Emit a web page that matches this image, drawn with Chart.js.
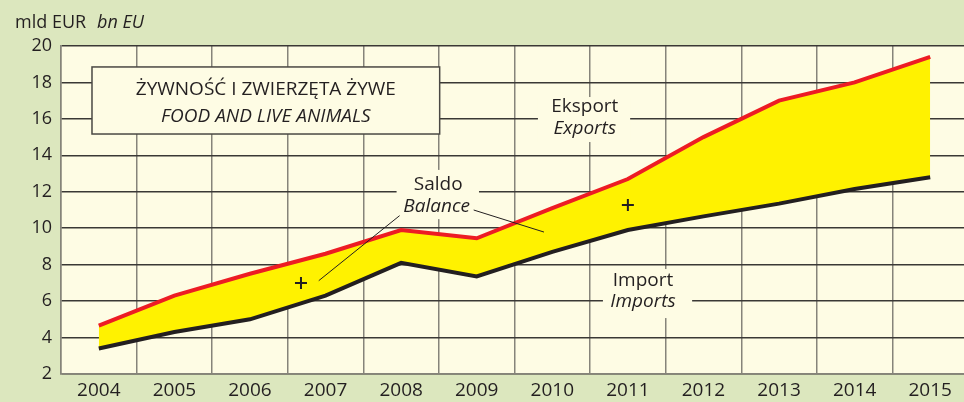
<!DOCTYPE html>
<html>
<head>
    <script src="https://cdn.jsdelivr.net/npm/chart.js@4"></script>
    <style>
        html, body { margin: 0; padding: 0; background: #dce7be; overflow: hidden; }
        #wrap { width: 970px; height: 402px; position: relative; }
    </style>
</head>
<body>
 <div id="wrap">
  <canvas id="trade-chart"></canvas>
 </div>
  <script>
    // food and live animals, bn EUR
    const years = ['2004', '2005', '2006', '2007', '2008', '2009', '2010', '2011', '2012', '2013', '2014', '2015'];
    const exportsBn = [4.65, 6.3, 7.5, 8.6, 9.9, 9.45, 11.1, 12.7, 15.0, 17.0, 18.0, 19.4];
    const importsBn = [3.4, 4.3, 5.0, 6.3, 8.1, 7.35, 8.7, 9.9, 10.65, 11.35, 12.15, 12.8];
    const yMin = 2, yMax = 20, yStep = 2;

    const FONT = '"Open Sans", sans-serif';
    const INK = '#231f20';
    const PAPER = '#fefce4';

    // text boxes, leader lines and plus marks, placed in data units (category index, value)
    const notes = {
        paint: function(ctx, px, py, box, lines) {
            ctx.fillStyle = PAPER;
            ctx.fillRect(px(box[0]), py(box[1]), px(box[2]) - px(box[0]), py(box[3]) - py(box[1]));
            ctx.fillStyle = INK;
            ctx.textAlign = 'center';
            ctx.textBaseline = 'middle';
            lines.forEach(function(l) {
                ctx.font = (l.italic ? 'italic ' : '') + l.size + 'px ' + FONT;
                ctx.fillText(l.text, px(l.x), py(l.y));
            });
        }
    };

    const annotate = {
        id: 'annotate',
        beforeDatasetsDraw: function(chart) {
            const ctx = chart.ctx;
            const px = v => chart.scales.x.getPixelForValue(v);
            const py = v => chart.scales.y.getPixelForValue(v);
            ctx.save();

            // title box
            const x0 = px(-0.09), x1 = px(4.51), y0 = py(18.85), y1 = py(15.17);
            ctx.fillStyle = PAPER;
            ctx.fillRect(x0, y0, x1 - x0, y1 - y0);
            ctx.strokeStyle = '#4a4843';
            ctx.lineWidth = 1.5;
            ctx.strokeRect(x0, y0, x1 - x0, y1 - y0);
            notes.paint(ctx, px, py, [0, 18.8, 0, 18.8], [
                { text: 'ŻYWNOŚĆ I ZWIERZĘTA ŻYWE', x: 2.21, y: 17.6, size: 19 },
                { text: 'FOOD AND LIVE ANIMALS', x: 2.21, y: 16.15, size: 19, italic: true }
            ]);

            notes.paint(ctx, px, py, [5.81, 17.2, 7.03, 14.73], [
                { text: 'Eksport', x: 6.43, y: 16.65, size: 19 },
                { text: 'Exports', x: 6.43, y: 15.45, size: 19, italic: true }
            ]);
            notes.paint(ctx, px, py, [3.94, 13.2, 5.03, 10.5], [
                { text: 'Saldo', x: 4.49, y: 12.37, size: 19 },
                { text: 'Balance', x: 4.47, y: 11.16, size: 19, italic: true }
            ]);
            notes.paint(ctx, px, py, [6.67, 7.76, 7.85, 5.07], [
                { text: 'Import', x: 7.2, y: 7.1, size: 19 },
                { text: 'Imports', x: 7.2, y: 5.95, size: 19, italic: true }
            ]);
            ctx.restore();
        },
        afterDatasetsDraw: function(chart) {
            const ctx = chart.ctx;
            const px = v => chart.scales.x.getPixelForValue(v);
            const py = v => chart.scales.y.getPixelForValue(v);
            ctx.save();
            ctx.strokeStyle = INK;
            ctx.lineWidth = 1;
            ctx.beginPath();
            ctx.moveTo(px(3.98), py(10.69));
            ctx.lineTo(px(2.91), py(7.12));
            ctx.moveTo(px(4.96), py(11.0));
            ctx.lineTo(px(5.89), py(9.79));
            ctx.stroke();

            // balance is positive
            ctx.lineWidth = 2;
            [[2.675, 7.0], [7.0, 11.27]].forEach(function(p) {
                const cx = px(p[0]), cy = py(p[1]);
                ctx.beginPath();
                ctx.moveTo(cx - 6, cy); ctx.lineTo(cx + 6, cy);
                ctx.moveTo(cx, cy - 6); ctx.lineTo(cx, cy + 6);
                ctx.stroke();
            });

            // unit caption above the value axis
            ctx.fillStyle = INK;
            ctx.textAlign = 'left';
            ctx.textBaseline = 'alphabetic';
            ctx.font = '18px ' + FONT;
            ctx.fillText('mld EUR', 15, 28);
            ctx.font = 'italic 18px ' + FONT;
            ctx.fillText('bn EU', 97, 28);
            ctx.restore();
        }
    };

    const plotPaper = {
        id: 'plotPaper',
        beforeDraw: function(chart) {
            const a = chart.chartArea;
            chart.ctx.save();
            chart.ctx.fillStyle = PAPER;
            chart.ctx.fillRect(a.left, a.top, a.right - a.left, a.bottom - a.top);
            chart.ctx.restore();
        }
    };

    new Chart(document.getElementById('trade-chart'), {
        type: 'line',
        data: {
            labels: years,
            datasets: [{
                label: 'Eksport',
                data: exportsBn,
                borderColor: '#ed1c24',
                backgroundColor: '#fff200',
                borderWidth: 4,
                pointRadius: 0,
                fill: '+1'
            }, {
                label: 'Import',
                data: importsBn,
                borderColor: INK,
                borderWidth: 4,
                pointRadius: 0,
                fill: false
            }]
        },
        options: {
            responsive: true,
            maintainAspectRatio: false,
            animation: false,
            layout: { padding: { top: 46, right: 2, bottom: 0, left: 0 } },
            plugins: {
                legend: { display: false },
                tooltip: { enabled: false },
                filler: { drawTime: 'beforeDatasetsDraw' }
            },
            scales: {
                x: {
                    offset: true,
                    grid: { offset: true, color: '#86847a', lineWidth: 1.5, drawTicks: false },
                    border: { color: '#86847a', width: 1.5 },
                    ticks: { color: INK, font: { family: FONT, size: 19 }, padding: 5, maxRotation: 0 },
                    afterFit: function(s) { s.height = 28; }
                },
                y: {
                    min: yMin,
                    max: yMax,
                    grid: { color: '#3a3835', lineWidth: 1.5, drawTicks: false },
                    border: { color: '#86847a', width: 1.5 },
                    ticks: { stepSize: yStep, color: INK, font: { family: FONT, size: 18 }, padding: 9 },
                    afterFit: function(s) { s.width = 61; }
                }
            }
        },
        plugins: [plotPaper, annotate]
    });
  </script>
</body>
</html>
